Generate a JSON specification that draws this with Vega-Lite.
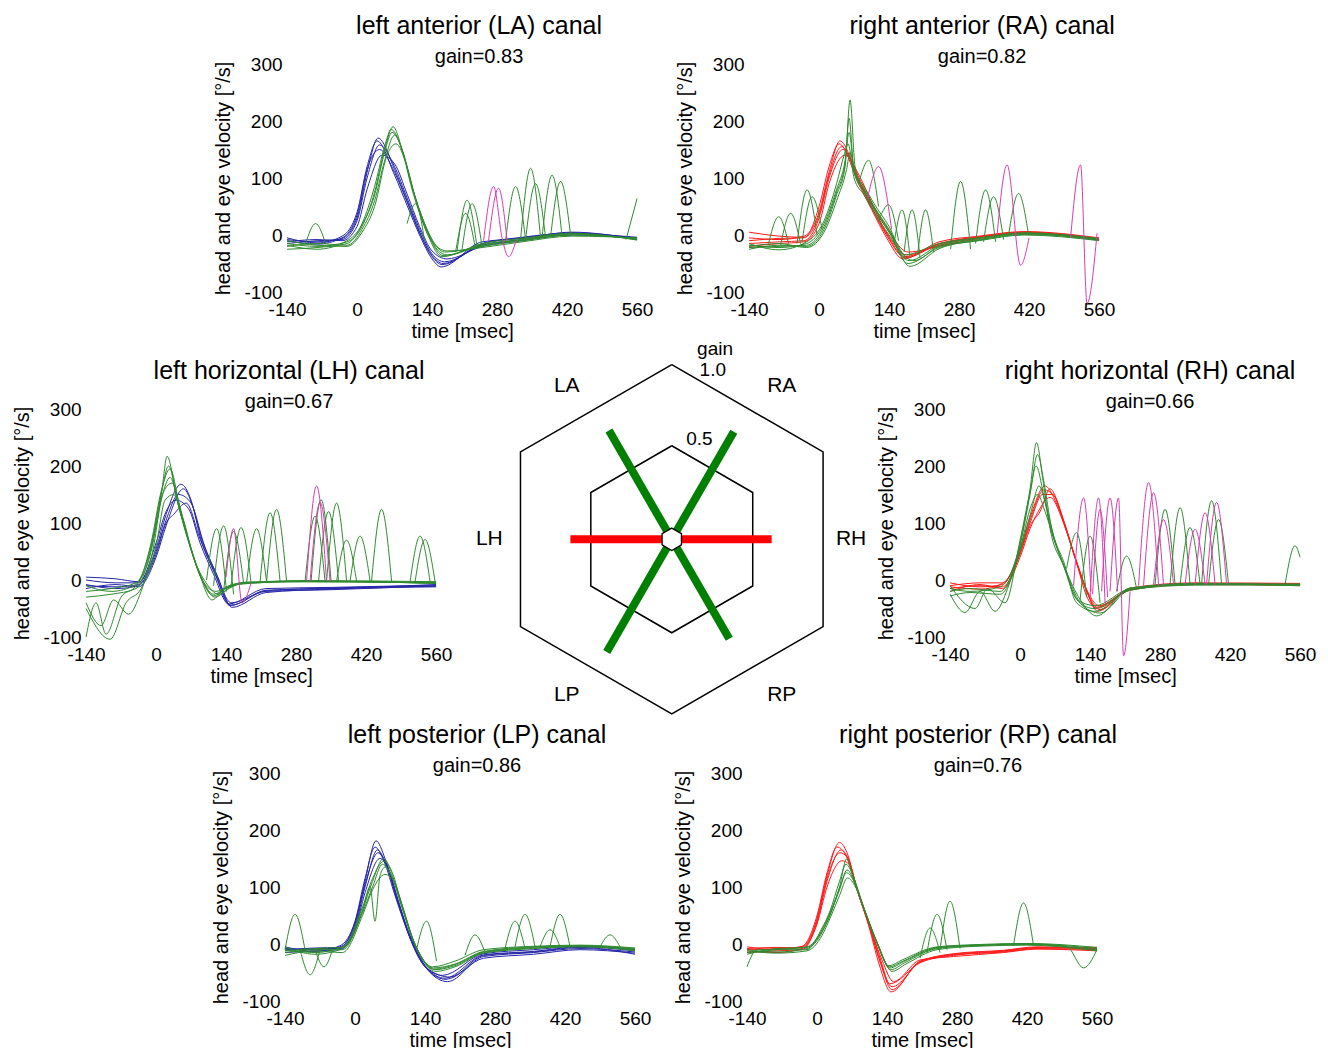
{
"$schema": "https://vega.github.io/schema/vega-lite/v6.json",
"background": "white",
"padding": {"left": 12, "top": 14, "right": 5, "bottom": 5},
"config": {
  "font": "Liberation Sans",
  "view": {"stroke": null},
  "axis": {"domain": false, "ticks": false, "grid": false, "labelFlush": false, "labelOverlap": false, "labelFont": "Liberation Sans", "labelFontSize": 19, "labelColor": "black", "titleFont": "Liberation Sans", "titleFontSize": 20, "titleFontWeight": "normal", "titleColor": "black"},
  "axisX": {"labelPadding": 8, "titlePadding": 2},
  "axisY": {"labelPadding": 5, "titlePadding": 11},
  "title": {"font": "Liberation Sans", "fontSize": 25, "fontWeight": "normal", "color": "black", "subtitleFont": "Liberation Sans", "subtitleFontSize": 20, "subtitleColor": "black", "anchor": "middle", "offset": -12, "subtitlePadding": 8},
  "line": {"strokeWidth": 1, "interpolate": "monotone"}
},
"datasets": {
"LAh": [
{"k":1,"t":-140,"v":-8},{"k":1,"t":-80,"v":-12},{"k":1,"t":-30,"v":-6},{"k":1,"t":0,"v":30},{"k":1,"t":20,"v":110},{"k":1,"t":42,"v":170},{"k":1,"t":75,"v":115},{"k":1,"t":100,"v":60},{"k":1,"t":125,"v":5},{"k":1,"t":150,"v":-38},{"k":1,"t":170,"v":-52},{"k":1,"t":250,"v":-15},{"k":1,"t":330,"v":-5},{"k":1,"t":430,"v":4},{"k":1,"t":560,"v":-6},
{"k":2,"t":-140,"v":-15},{"k":2,"t":-80,"v":-10},{"k":2,"t":-30,"v":-8},{"k":2,"t":0,"v":25},{"k":2,"t":20,"v":100},{"k":2,"t":45,"v":158},{"k":2,"t":75,"v":120},{"k":2,"t":100,"v":65},{"k":2,"t":125,"v":10},{"k":2,"t":150,"v":-33},{"k":2,"t":175,"v":-47},{"k":2,"t":250,"v":-18},{"k":2,"t":330,"v":-8},{"k":2,"t":430,"v":2},{"k":2,"t":560,"v":-4},
{"k":3,"t":-140,"v":-5},{"k":3,"t":-80,"v":-14},{"k":3,"t":-30,"v":-2},{"k":3,"t":0,"v":40},{"k":3,"t":20,"v":120},{"k":3,"t":40,"v":165},{"k":3,"t":75,"v":105},{"k":3,"t":100,"v":52},{"k":3,"t":125,"v":0},{"k":3,"t":150,"v":-42},{"k":3,"t":168,"v":-56},{"k":3,"t":250,"v":-12},{"k":3,"t":330,"v":-6},{"k":3,"t":430,"v":5},{"k":3,"t":560,"v":-8},
{"k":4,"t":-140,"v":-12},{"k":4,"t":-80,"v":-8},{"k":4,"t":-30,"v":-10},{"k":4,"t":0,"v":15},{"k":4,"t":20,"v":80},{"k":4,"t":50,"v":140},{"k":4,"t":75,"v":125},{"k":4,"t":100,"v":72},{"k":4,"t":125,"v":15},{"k":4,"t":150,"v":-28},{"k":4,"t":180,"v":-42},{"k":4,"t":250,"v":-20},{"k":4,"t":330,"v":-10},{"k":4,"t":430,"v":0},{"k":4,"t":560,"v":-5},
{"k":5,"t":-140,"v":-10},{"k":5,"t":-80,"v":-16},{"k":5,"t":-30,"v":-5},{"k":5,"t":0,"v":35},{"k":5,"t":20,"v":115},{"k":5,"t":45,"v":150},{"k":5,"t":75,"v":110},{"k":5,"t":100,"v":58},{"k":5,"t":125,"v":4},{"k":5,"t":150,"v":-36},{"k":5,"t":172,"v":-50},{"k":5,"t":250,"v":-16},{"k":5,"t":330,"v":-4},{"k":5,"t":430,"v":3},{"k":5,"t":560,"v":-7}
],
"LAe": [
{"k":1,"t":-140,"v":-15},{"k":1,"t":-80,"v":-20},{"k":1,"t":-20,"v":-12},{"k":1,"t":10,"v":15},{"k":1,"t":35,"v":75},{"k":1,"t":55,"v":150},{"k":1,"t":72,"v":190},{"k":1,"t":90,"v":150},{"k":1,"t":110,"v":85},{"k":1,"t":135,"v":20},{"k":1,"t":160,"v":-25},{"k":1,"t":180,"v":-35},{"k":1,"t":250,"v":-18},{"k":1,"t":330,"v":-8},{"k":1,"t":430,"v":2},{"k":1,"t":560,"v":-8},
{"k":2,"t":-140,"v":-20},{"k":2,"t":-80,"v":-15},{"k":2,"t":-20,"v":-18},{"k":2,"t":10,"v":10},{"k":2,"t":35,"v":60},{"k":2,"t":55,"v":130},{"k":2,"t":75,"v":175},{"k":2,"t":95,"v":135},{"k":2,"t":115,"v":70},{"k":2,"t":140,"v":10},{"k":2,"t":175,"v":-30},{"k":2,"t":250,"v":-20},{"k":2,"t":330,"v":-10},{"k":2,"t":430,"v":0},{"k":2,"t":560,"v":-6},
{"k":3,"t":-140,"v":-25},{"k":3,"t":-80,"v":-22},{"k":3,"t":-20,"v":-15},{"k":3,"t":10,"v":20},{"k":3,"t":35,"v":85},{"k":3,"t":55,"v":155},{"k":3,"t":68,"v":185},{"k":3,"t":88,"v":155},{"k":3,"t":110,"v":80},{"k":3,"t":135,"v":15},{"k":3,"t":170,"v":-38},{"k":3,"t":250,"v":-15},{"k":3,"t":330,"v":-6},{"k":3,"t":430,"v":3},{"k":3,"t":560,"v":-9},
{"k":4,"t":-140,"v":-10},{"k":4,"t":-80,"v":-18},{"k":4,"t":-20,"v":-20},{"k":4,"t":10,"v":5},{"k":4,"t":35,"v":50},{"k":4,"t":60,"v":140},{"k":4,"t":78,"v":160},{"k":4,"t":98,"v":125},{"k":4,"t":118,"v":60},{"k":4,"t":145,"v":-5},{"k":4,"t":180,"v":-28},{"k":4,"t":250,"v":-22},{"k":4,"t":330,"v":-12},{"k":4,"t":430,"v":-2},{"k":4,"t":560,"v":-5},
{"k":5,"t":-140,"v":-18},{"k":5,"t":-80,"v":-25},{"k":5,"t":-20,"v":-10},{"k":5,"t":10,"v":18},{"k":5,"t":35,"v":70},{"k":5,"t":55,"v":145},{"k":5,"t":70,"v":180},{"k":5,"t":92,"v":145},{"k":5,"t":112,"v":78},{"k":5,"t":138,"v":12},{"k":5,"t":172,"v":-36},{"k":5,"t":250,"v":-17},{"k":5,"t":330,"v":-9},{"k":5,"t":430,"v":1},{"k":5,"t":560,"v":-7},
{"k":11,"t":-103,"v":-15},{"k":11,"t":-83,"v":20},{"k":11,"t":-63,"v":-15},
{"k":12,"t":100,"v":20},{"k":12,"t":117,"v":55},{"k":12,"t":135,"v":-10},
{"k":13,"t":197,"v":-30},{"k":13,"t":217,"v":38},{"k":13,"t":237,"v":-25},
{"k":14,"t":200,"v":-28},{"k":14,"t":220,"v":61},{"k":14,"t":240,"v":-22},
{"k":15,"t":210,"v":-25},{"k":15,"t":230,"v":55},{"k":15,"t":250,"v":-20},
{"k":16,"t":297,"v":-10},{"k":16,"t":317,"v":85},{"k":16,"t":337,"v":-8},
{"k":17,"t":327,"v":-8},{"k":17,"t":347,"v":117},{"k":17,"t":367,"v":-5},
{"k":18,"t":337,"v":-8},{"k":18,"t":357,"v":90},{"k":18,"t":377,"v":-4},
{"k":19,"t":370,"v":-4},{"k":19,"t":390,"v":105},{"k":19,"t":410,"v":-2},
{"k":20,"t":387,"v":-3},{"k":20,"t":407,"v":94},{"k":20,"t":427,"v":0},
{"k":21,"t":538,"v":-8},{"k":21,"t":560,"v":64}
],
"LAm": [
{"k":1,"t":253,"v":-10},{"k":1,"t":273,"v":85},{"k":1,"t":290,"v":-5},{"k":1,"t":303,"v":-38},{"k":1,"t":318,"v":-10},
{"k":2,"t":263,"v":-10},{"k":2,"t":283,"v":82},{"k":2,"t":300,"v":-10}
],
"RAh": [
{"k":1,"t":-140,"v":-5},{"k":1,"t":-80,"v":-8},{"k":1,"t":-30,"v":-2},{"k":1,"t":0,"v":40},{"k":1,"t":20,"v":110},{"k":1,"t":42,"v":165},{"k":1,"t":80,"v":95},{"k":1,"t":105,"v":50},{"k":1,"t":135,"v":2},{"k":1,"t":172,"v":-38},{"k":1,"t":240,"v":-15},{"k":1,"t":320,"v":-3},{"k":1,"t":410,"v":5},{"k":1,"t":560,"v":-6},
{"k":2,"t":-140,"v":-15},{"k":2,"t":-80,"v":-12},{"k":2,"t":-30,"v":-10},{"k":2,"t":0,"v":30},{"k":2,"t":20,"v":100},{"k":2,"t":48,"v":150},{"k":2,"t":80,"v":100},{"k":2,"t":105,"v":55},{"k":2,"t":138,"v":0},{"k":2,"t":175,"v":-35},{"k":2,"t":240,"v":-18},{"k":2,"t":320,"v":-5},{"k":2,"t":410,"v":4},{"k":2,"t":560,"v":-8},
{"k":3,"t":-140,"v":-10},{"k":3,"t":-80,"v":-6},{"k":3,"t":-30,"v":-5},{"k":3,"t":0,"v":50},{"k":3,"t":20,"v":120},{"k":3,"t":40,"v":160},{"k":3,"t":80,"v":88},{"k":3,"t":105,"v":45},{"k":3,"t":135,"v":-5},{"k":3,"t":168,"v":-42},{"k":3,"t":240,"v":-12},{"k":3,"t":320,"v":-2},{"k":3,"t":410,"v":6},{"k":3,"t":560,"v":-5},
{"k":4,"t":-140,"v":-20},{"k":4,"t":-80,"v":-15},{"k":4,"t":-30,"v":-12},{"k":4,"t":0,"v":20},{"k":4,"t":20,"v":90},{"k":4,"t":52,"v":140},{"k":4,"t":80,"v":105},{"k":4,"t":105,"v":58},{"k":4,"t":140,"v":5},{"k":4,"t":178,"v":-30},{"k":4,"t":240,"v":-20},{"k":4,"t":320,"v":-6},{"k":4,"t":410,"v":3},{"k":4,"t":560,"v":-9},
{"k":5,"t":-140,"v":5},{"k":5,"t":-80,"v":-2},{"k":5,"t":-30,"v":-4},{"k":5,"t":0,"v":35},{"k":5,"t":20,"v":105},{"k":5,"t":45,"v":155},{"k":5,"t":80,"v":92},{"k":5,"t":105,"v":48},{"k":5,"t":136,"v":-2},{"k":5,"t":172,"v":-40},{"k":5,"t":240,"v":-16},{"k":5,"t":320,"v":-4},{"k":5,"t":410,"v":5},{"k":5,"t":560,"v":-7}
],
"RAe": [
{"k":1,"t":-140,"v":-18},{"k":1,"t":-80,"v":-22},{"k":1,"t":-25,"v":-15},{"k":1,"t":10,"v":20},{"k":1,"t":35,"v":80},{"k":1,"t":52,"v":130},{"k":1,"t":60,"v":180},{"k":1,"t":70,"v":115},{"k":1,"t":90,"v":80},{"k":1,"t":110,"v":50},{"k":1,"t":140,"v":10},{"k":1,"t":175,"v":-40},{"k":1,"t":190,"v":-45},{"k":1,"t":240,"v":-20},{"k":1,"t":320,"v":-8},{"k":1,"t":410,"v":3},{"k":1,"t":560,"v":-8},
{"k":2,"t":-140,"v":-25},{"k":2,"t":-80,"v":-18},{"k":2,"t":-25,"v":-20},{"k":2,"t":10,"v":10},{"k":2,"t":35,"v":70},{"k":2,"t":52,"v":120},{"k":2,"t":62,"v":237},{"k":2,"t":72,"v":120},{"k":2,"t":90,"v":78},{"k":2,"t":110,"v":45},{"k":2,"t":140,"v":5},{"k":2,"t":178,"v":-50},{"k":2,"t":240,"v":-22},{"k":2,"t":320,"v":-10},{"k":2,"t":410,"v":0},{"k":2,"t":560,"v":-10},
{"k":3,"t":-140,"v":-15},{"k":3,"t":-80,"v":-26},{"k":3,"t":-25,"v":-12},{"k":3,"t":10,"v":25},{"k":3,"t":35,"v":90},{"k":3,"t":50,"v":140},{"k":3,"t":58,"v":160},{"k":3,"t":70,"v":100},{"k":3,"t":90,"v":70},{"k":3,"t":110,"v":40},{"k":3,"t":140,"v":0},{"k":3,"t":180,"v":-45},{"k":3,"t":240,"v":-18},{"k":3,"t":320,"v":-6},{"k":3,"t":410,"v":4},{"k":3,"t":560,"v":-6},
{"k":4,"t":-140,"v":-22},{"k":4,"t":-80,"v":-20},{"k":4,"t":-25,"v":-18},{"k":4,"t":10,"v":15},{"k":4,"t":35,"v":75},{"k":4,"t":52,"v":125},{"k":4,"t":60,"v":205},{"k":4,"t":70,"v":110},{"k":4,"t":90,"v":85},{"k":4,"t":110,"v":55},{"k":4,"t":140,"v":15},{"k":4,"t":170,"v":-35},{"k":4,"t":240,"v":-15},{"k":4,"t":320,"v":-5},{"k":4,"t":410,"v":2},{"k":4,"t":560,"v":-9},
{"k":5,"t":-140,"v":-20},{"k":5,"t":-80,"v":-15},{"k":5,"t":-25,"v":-22},{"k":5,"t":10,"v":5},{"k":5,"t":35,"v":60},{"k":5,"t":55,"v":115},{"k":5,"t":62,"v":145},{"k":5,"t":72,"v":105},{"k":5,"t":90,"v":75},{"k":5,"t":110,"v":48},{"k":5,"t":140,"v":8},{"k":5,"t":182,"v":-55},{"k":5,"t":240,"v":-24},{"k":5,"t":320,"v":-9},{"k":5,"t":410,"v":1},{"k":5,"t":560,"v":-7},
{"k":11,"t":-101,"v":-15},{"k":11,"t":-81,"v":32},{"k":11,"t":-61,"v":-15},
{"k":12,"t":-77,"v":-18},{"k":12,"t":-57,"v":38},{"k":12,"t":-37,"v":-15},
{"k":13,"t":-44,"v":-15},{"k":13,"t":-24,"v":79},{"k":13,"t":-4,"v":0},
{"k":14,"t":-34,"v":-12},{"k":14,"t":-14,"v":67},{"k":14,"t":6,"v":10},
{"k":15,"t":79,"v":90},{"k":15,"t":99,"v":131},{"k":15,"t":119,"v":50},
{"k":16,"t":119,"v":25},{"k":16,"t":139,"v":53},{"k":16,"t":159,"v":-10},
{"k":17,"t":150,"v":-15},{"k":17,"t":166,"v":44},{"k":17,"t":182,"v":-40},
{"k":18,"t":170,"v":-30},{"k":18,"t":186,"v":44},{"k":18,"t":202,"v":-40},
{"k":19,"t":197,"v":-35},{"k":19,"t":213,"v":44},{"k":19,"t":229,"v":-30},
{"k":20,"t":263,"v":-25},{"k":20,"t":283,"v":94},{"k":20,"t":303,"v":-25},
{"k":21,"t":313,"v":-15},{"k":21,"t":333,"v":79},{"k":21,"t":353,"v":-12},
{"k":22,"t":329,"v":-12},{"k":22,"t":349,"v":67},{"k":22,"t":369,"v":-8},
{"k":23,"t":379,"v":0},{"k":23,"t":399,"v":73},{"k":23,"t":419,"v":0}
],
"RAm": [
{"k":1,"t":97,"v":65},{"k":1,"t":119,"v":120},{"k":1,"t":145,"v":10},
{"k":2,"t":356,"v":0},{"k":2,"t":376,"v":123},{"k":2,"t":403,"v":-53},{"k":2,"t":420,"v":-5},
{"k":3,"t":503,"v":-5},{"k":3,"t":523,"v":123},{"k":3,"t":536,"v":-120},{"k":3,"t":556,"v":3}
],
"LHh": [
{"k":1,"t":-140,"v":5},{"k":1,"t":-80,"v":2},{"k":1,"t":-35,"v":-3},{"k":1,"t":0,"v":55},{"k":1,"t":20,"v":115},{"k":1,"t":50,"v":168},{"k":1,"t":70,"v":140},{"k":1,"t":90,"v":70},{"k":1,"t":118,"v":12},{"k":1,"t":148,"v":-45},{"k":1,"t":220,"v":-18},{"k":1,"t":350,"v":-15},{"k":1,"t":560,"v":-8},
{"k":2,"t":-140,"v":-10},{"k":2,"t":-80,"v":-12},{"k":2,"t":-35,"v":-8},{"k":2,"t":0,"v":50},{"k":2,"t":20,"v":105},{"k":2,"t":45,"v":150},{"k":2,"t":70,"v":135},{"k":2,"t":92,"v":70},{"k":2,"t":120,"v":12},{"k":2,"t":150,"v":-40},{"k":2,"t":220,"v":-20},{"k":2,"t":350,"v":-17},{"k":2,"t":560,"v":-10},
{"k":3,"t":-140,"v":-15},{"k":3,"t":-80,"v":-8},{"k":3,"t":-35,"v":-12},{"k":3,"t":0,"v":40},{"k":3,"t":20,"v":95},{"k":3,"t":55,"v":160},{"k":3,"t":75,"v":125},{"k":3,"t":95,"v":65},{"k":3,"t":122,"v":8},{"k":3,"t":152,"v":-48},{"k":3,"t":220,"v":-22},{"k":3,"t":350,"v":-16},{"k":3,"t":560,"v":-12},
{"k":4,"t":-140,"v":0},{"k":4,"t":-80,"v":-5},{"k":4,"t":-35,"v":-5},{"k":4,"t":0,"v":65},{"k":4,"t":20,"v":120},{"k":4,"t":40,"v":140},{"k":4,"t":65,"v":125},{"k":4,"t":88,"v":65},{"k":4,"t":115,"v":10},{"k":4,"t":145,"v":-42},{"k":4,"t":220,"v":-15},{"k":4,"t":350,"v":-13},{"k":4,"t":560,"v":-9},
{"k":5,"t":-140,"v":-8},{"k":5,"t":-80,"v":-15},{"k":5,"t":-35,"v":-10},{"k":5,"t":0,"v":45},{"k":5,"t":20,"v":100},{"k":5,"t":35,"v":115},{"k":5,"t":60,"v":135},{"k":5,"t":88,"v":72},{"k":5,"t":118,"v":10},{"k":5,"t":150,"v":-44},{"k":5,"t":220,"v":-19},{"k":5,"t":350,"v":-14},{"k":5,"t":560,"v":-11}
],
"LHe": [
{"k":1,"t":-140,"v":-20},{"k":1,"t":-90,"v":-15},{"k":1,"t":-40,"v":-5},{"k":1,"t":-10,"v":60},{"k":1,"t":10,"v":150},{"k":1,"t":25,"v":200},{"k":1,"t":45,"v":130},{"k":1,"t":65,"v":70},{"k":1,"t":88,"v":10},{"k":1,"t":115,"v":-25},{"k":1,"t":140,"v":-15},{"k":1,"t":180,"v":-4},{"k":1,"t":300,"v":-3},{"k":1,"t":560,"v":-5},
{"k":2,"t":-140,"v":-30},{"k":2,"t":-90,"v":-25},{"k":2,"t":-40,"v":-15},{"k":2,"t":-10,"v":55},{"k":2,"t":10,"v":140},{"k":2,"t":28,"v":180},{"k":2,"t":48,"v":120},{"k":2,"t":68,"v":60},{"k":2,"t":90,"v":5},{"k":2,"t":118,"v":-30},{"k":2,"t":145,"v":-15},{"k":2,"t":180,"v":-5},{"k":2,"t":300,"v":-2},{"k":2,"t":560,"v":-6},
{"k":3,"t":-140,"v":-100},{"k":3,"t":-120,"v":-40},{"k":3,"t":-100,"v":-95},{"k":3,"t":-70,"v":-30},{"k":3,"t":-40,"v":-10},{"k":3,"t":-10,"v":50},{"k":3,"t":12,"v":160},{"k":3,"t":22,"v":217},{"k":3,"t":42,"v":140},{"k":3,"t":62,"v":75},{"k":3,"t":85,"v":15},{"k":3,"t":112,"v":-35},{"k":3,"t":140,"v":-12},{"k":3,"t":180,"v":-4},{"k":3,"t":300,"v":-2},{"k":3,"t":560,"v":-4},
{"k":4,"t":-140,"v":-40},{"k":4,"t":-110,"v":-80},{"k":4,"t":-85,"v":-35},{"k":4,"t":-55,"v":-60},{"k":4,"t":-30,"v":-20},{"k":4,"t":-8,"v":45},{"k":4,"t":15,"v":155},{"k":4,"t":32,"v":170},{"k":4,"t":52,"v":110},{"k":4,"t":70,"v":55},{"k":4,"t":92,"v":0},{"k":4,"t":120,"v":-20},{"k":4,"t":150,"v":-10},{"k":4,"t":180,"v":-6},{"k":4,"t":300,"v":-3},{"k":4,"t":560,"v":-5},
{"k":5,"t":-140,"v":-10},{"k":5,"t":-90,"v":-20},{"k":5,"t":-40,"v":-8},{"k":5,"t":-10,"v":65},{"k":5,"t":10,"v":155},{"k":5,"t":28,"v":195},{"k":5,"t":46,"v":135},{"k":5,"t":66,"v":65},{"k":5,"t":88,"v":8},{"k":5,"t":115,"v":-28},{"k":5,"t":140,"v":-14},{"k":5,"t":180,"v":-5},{"k":5,"t":300,"v":-1},{"k":5,"t":560,"v":-3},
{"k":6,"t":-140,"v":-50},{"k":6,"t":-92,"v":-104},{"k":6,"t":-60,"v":-40},{"k":6,"t":-30,"v":-15},{"k":6,"t":0,"v":60},{"k":6,"t":18,"v":140},{"k":6,"t":35,"v":150},{"k":6,"t":55,"v":105},{"k":6,"t":75,"v":40},{"k":6,"t":100,"v":-5},{"k":6,"t":125,"v":-25},{"k":6,"t":160,"v":-8},{"k":6,"t":300,"v":-2},{"k":6,"t":560,"v":-6},
{"k":11,"t":101,"v":0},{"k":11,"t":121,"v":90},{"k":11,"t":141,"v":-20},
{"k":12,"t":115,"v":-10},{"k":12,"t":135,"v":95},{"k":12,"t":155,"v":-25},
{"k":13,"t":135,"v":-20},{"k":13,"t":155,"v":85},{"k":13,"t":175,"v":-5},
{"k":14,"t":150,"v":-10},{"k":14,"t":170,"v":92},{"k":14,"t":190,"v":-5},
{"k":15,"t":181,"v":-5},{"k":15,"t":201,"v":90},{"k":15,"t":221,"v":-3},
{"k":16,"t":208,"v":-3},{"k":16,"t":228,"v":118},{"k":16,"t":248,"v":-2},
{"k":17,"t":221,"v":-3},{"k":17,"t":241,"v":124},{"k":17,"t":261,"v":-2},
{"k":18,"t":298,"v":-2},{"k":18,"t":318,"v":112},{"k":18,"t":338,"v":-2},
{"k":19,"t":310,"v":-2},{"k":19,"t":330,"v":141},{"k":19,"t":350,"v":-2},
{"k":20,"t":325,"v":-2},{"k":20,"t":345,"v":120},{"k":20,"t":365,"v":-2},
{"k":21,"t":341,"v":-2},{"k":21,"t":361,"v":135},{"k":21,"t":381,"v":-2},
{"k":22,"t":361,"v":-2},{"k":22,"t":381,"v":70},{"k":22,"t":401,"v":-2},
{"k":23,"t":388,"v":-2},{"k":23,"t":408,"v":77},{"k":23,"t":428,"v":-2},
{"k":24,"t":431,"v":-2},{"k":24,"t":451,"v":124},{"k":24,"t":471,"v":-2},
{"k":25,"t":508,"v":-3},{"k":25,"t":528,"v":77},{"k":25,"t":548,"v":-3},
{"k":26,"t":518,"v":-3},{"k":26,"t":538,"v":71},{"k":26,"t":558,"v":-3}
],
"LHm": [
{"k":1,"t":140,"v":5},{"k":1,"t":155,"v":90},{"k":1,"t":172,"v":-40},{"k":1,"t":190,"v":-5},
{"k":2,"t":301,"v":-2},{"k":2,"t":321,"v":165},{"k":2,"t":341,"v":-2},
{"k":3,"t":308,"v":-2},{"k":3,"t":328,"v":136},{"k":3,"t":348,"v":-2}
],
"RHh": [
{"k":1,"t":-140,"v":-10},{"k":1,"t":-80,"v":-5},{"k":1,"t":-35,"v":-5},{"k":1,"t":0,"v":50},{"k":1,"t":20,"v":100},{"k":1,"t":45,"v":150},{"k":1,"t":65,"v":150},{"k":1,"t":87,"v":100},{"k":1,"t":113,"v":30},{"k":1,"t":133,"v":-28},{"k":1,"t":153,"v":-50},{"k":1,"t":220,"v":-16},{"k":1,"t":350,"v":-6},{"k":1,"t":560,"v":-8},
{"k":2,"t":-140,"v":-15},{"k":2,"t":-80,"v":-10},{"k":2,"t":-35,"v":-12},{"k":2,"t":0,"v":45},{"k":2,"t":20,"v":95},{"k":2,"t":40,"v":120},{"k":2,"t":60,"v":160},{"k":2,"t":85,"v":110},{"k":2,"t":112,"v":35},{"k":2,"t":135,"v":-20},{"k":2,"t":158,"v":-45},{"k":2,"t":220,"v":-18},{"k":2,"t":350,"v":-7},{"k":2,"t":560,"v":-10},
{"k":3,"t":-140,"v":-5},{"k":3,"t":-80,"v":-12},{"k":3,"t":-35,"v":-8},{"k":3,"t":0,"v":55},{"k":3,"t":20,"v":110},{"k":3,"t":50,"v":165},{"k":3,"t":70,"v":140},{"k":3,"t":90,"v":95},{"k":3,"t":115,"v":25},{"k":3,"t":138,"v":-30},{"k":3,"t":155,"v":-55},{"k":3,"t":220,"v":-14},{"k":3,"t":350,"v":-5},{"k":3,"t":560,"v":-6},
{"k":4,"t":-140,"v":-20},{"k":4,"t":-80,"v":-8},{"k":4,"t":-35,"v":-15},{"k":4,"t":0,"v":40},{"k":4,"t":20,"v":90},{"k":4,"t":35,"v":118},{"k":4,"t":60,"v":145},{"k":4,"t":85,"v":105},{"k":4,"t":110,"v":40},{"k":4,"t":132,"v":-15},{"k":4,"t":150,"v":-48},{"k":4,"t":220,"v":-17},{"k":4,"t":350,"v":-8},{"k":4,"t":560,"v":-9},
{"k":5,"t":-140,"v":-12},{"k":5,"t":-80,"v":-16},{"k":5,"t":-35,"v":-6},{"k":5,"t":0,"v":48},{"k":5,"t":20,"v":105},{"k":5,"t":48,"v":158},{"k":5,"t":68,"v":148},{"k":5,"t":92,"v":90},{"k":5,"t":116,"v":22},{"k":5,"t":140,"v":-32},{"k":5,"t":160,"v":-52},{"k":5,"t":220,"v":-15},{"k":5,"t":350,"v":-6},{"k":5,"t":560,"v":-7}
],
"RHe": [
{"k":1,"t":-140,"v":-15},{"k":1,"t":-100,"v":-20},{"k":1,"t":-40,"v":-12},{"k":1,"t":0,"v":65},{"k":1,"t":20,"v":160},{"k":1,"t":33,"v":241},{"k":1,"t":45,"v":180},{"k":1,"t":60,"v":90},{"k":1,"t":87,"v":25},{"k":1,"t":115,"v":-35},{"k":1,"t":150,"v":-45},{"k":1,"t":220,"v":-15},{"k":1,"t":350,"v":-7},{"k":1,"t":560,"v":-8},
{"k":2,"t":-140,"v":-25},{"k":2,"t":-110,"v":-57},{"k":2,"t":-80,"v":-20},{"k":2,"t":-50,"v":-55},{"k":2,"t":-25,"v":-15},{"k":2,"t":0,"v":60},{"k":2,"t":20,"v":150},{"k":2,"t":35,"v":220},{"k":2,"t":48,"v":170},{"k":2,"t":62,"v":95},{"k":2,"t":88,"v":30},{"k":2,"t":113,"v":-40},{"k":2,"t":150,"v":-55},{"k":2,"t":220,"v":-16},{"k":2,"t":350,"v":-8},{"k":2,"t":560,"v":-10},
{"k":3,"t":-140,"v":-20},{"k":3,"t":-100,"v":-15},{"k":3,"t":-40,"v":-20},{"k":3,"t":0,"v":55},{"k":3,"t":22,"v":130},{"k":3,"t":35,"v":150},{"k":3,"t":50,"v":120},{"k":3,"t":65,"v":80},{"k":3,"t":90,"v":20},{"k":3,"t":120,"v":-34},{"k":3,"t":153,"v":-63},{"k":3,"t":220,"v":-14},{"k":3,"t":350,"v":-6},{"k":3,"t":560,"v":-9},
{"k":4,"t":-140,"v":-10},{"k":4,"t":-90,"v":-50},{"k":4,"t":-65,"v":-15},{"k":4,"t":-30,"v":-40},{"k":4,"t":0,"v":70},{"k":4,"t":20,"v":155},{"k":4,"t":32,"v":200},{"k":4,"t":47,"v":150},{"k":4,"t":60,"v":95},{"k":4,"t":86,"v":28},{"k":4,"t":117,"v":-38},{"k":4,"t":148,"v":-50},{"k":4,"t":220,"v":-18},{"k":4,"t":350,"v":-7},{"k":4,"t":560,"v":-7},
{"k":5,"t":-140,"v":-28},{"k":5,"t":-100,"v":-22},{"k":5,"t":-40,"v":-25},{"k":5,"t":0,"v":50},{"k":5,"t":22,"v":120},{"k":5,"t":38,"v":165},{"k":5,"t":52,"v":130},{"k":5,"t":68,"v":75},{"k":5,"t":92,"v":15},{"k":5,"t":125,"v":-45},{"k":5,"t":160,"v":-58},{"k":5,"t":220,"v":-17},{"k":5,"t":350,"v":-9},{"k":5,"t":560,"v":-8},
{"k":11,"t":93,"v":20},{"k":11,"t":113,"v":83},{"k":11,"t":133,"v":-30},
{"k":12,"t":120,"v":-35},{"k":12,"t":140,"v":77},{"k":12,"t":160,"v":-40},
{"k":13,"t":193,"v":-20},{"k":13,"t":213,"v":42},{"k":13,"t":233,"v":-15},
{"k":14,"t":270,"v":-8},{"k":14,"t":290,"v":124},{"k":14,"t":310,"v":-8},
{"k":15,"t":300,"v":-8},{"k":15,"t":320,"v":127},{"k":15,"t":340,"v":-8},
{"k":16,"t":320,"v":-8},{"k":16,"t":340,"v":92},{"k":16,"t":360,"v":-8},
{"k":17,"t":363,"v":-8},{"k":17,"t":383,"v":139},{"k":17,"t":403,"v":-8},
{"k":18,"t":377,"v":-8},{"k":18,"t":397,"v":106},{"k":18,"t":417,"v":-8},
{"k":19,"t":530,"v":-8},{"k":19,"t":550,"v":60},{"k":19,"t":560,"v":40}
],
"RHm": [
{"k":1,"t":107,"v":-10},{"k":1,"t":127,"v":144},{"k":1,"t":142,"v":-20},
{"k":2,"t":140,"v":-30},{"k":2,"t":157,"v":144},{"k":2,"t":170,"v":-40},
{"k":3,"t":145,"v":-25},{"k":3,"t":160,"v":124},{"k":3,"t":175,"v":-30},
{"k":4,"t":163,"v":-20},{"k":4,"t":180,"v":144},{"k":4,"t":195,"v":-20},
{"k":5,"t":180,"v":-20},{"k":5,"t":197,"v":144},{"k":5,"t":207,"v":-133},{"k":5,"t":220,"v":-20},
{"k":6,"t":237,"v":-10},{"k":6,"t":257,"v":171},{"k":6,"t":277,"v":-10},
{"k":7,"t":247,"v":-10},{"k":7,"t":267,"v":153},{"k":7,"t":287,"v":-10},
{"k":8,"t":267,"v":-8},{"k":8,"t":287,"v":106},{"k":8,"t":307,"v":-8},
{"k":9,"t":330,"v":-8},{"k":9,"t":350,"v":89},{"k":9,"t":370,"v":-8},
{"k":10,"t":350,"v":-8},{"k":10,"t":370,"v":118},{"k":10,"t":390,"v":-8},
{"k":11,"t":373,"v":-8},{"k":11,"t":393,"v":136},{"k":11,"t":413,"v":-8}
],
"LPh": [
{"k":1,"t":-140,"v":-8},{"k":1,"t":-80,"v":-10},{"k":1,"t":-30,"v":-5},{"k":1,"t":0,"v":35},{"k":1,"t":20,"v":110},{"k":1,"t":42,"v":181},{"k":1,"t":60,"v":150},{"k":1,"t":83,"v":81},{"k":1,"t":110,"v":11},{"k":1,"t":143,"v":-42},{"k":1,"t":180,"v":-60},{"k":1,"t":257,"v":-19},{"k":1,"t":357,"v":-13},{"k":1,"t":450,"v":-5},{"k":1,"t":560,"v":-12},
{"k":2,"t":-140,"v":-12},{"k":2,"t":-80,"v":-8},{"k":2,"t":-30,"v":-8},{"k":2,"t":0,"v":30},{"k":2,"t":20,"v":100},{"k":2,"t":45,"v":165},{"k":2,"t":62,"v":140},{"k":2,"t":85,"v":75},{"k":2,"t":112,"v":8},{"k":2,"t":145,"v":-45},{"k":2,"t":185,"v":-66},{"k":2,"t":257,"v":-22},{"k":2,"t":357,"v":-15},{"k":2,"t":450,"v":-8},{"k":2,"t":560,"v":-14},
{"k":3,"t":-140,"v":-5},{"k":3,"t":-80,"v":-13},{"k":3,"t":-30,"v":-3},{"k":3,"t":0,"v":40},{"k":3,"t":20,"v":115},{"k":3,"t":40,"v":170},{"k":3,"t":58,"v":145},{"k":3,"t":80,"v":85},{"k":3,"t":108,"v":15},{"k":3,"t":140,"v":-40},{"k":3,"t":175,"v":-55},{"k":3,"t":257,"v":-17},{"k":3,"t":357,"v":-10},{"k":3,"t":450,"v":-4},{"k":3,"t":560,"v":-10},
{"k":4,"t":-140,"v":-15},{"k":4,"t":-80,"v":-12},{"k":4,"t":-30,"v":-10},{"k":4,"t":0,"v":25},{"k":4,"t":20,"v":90},{"k":4,"t":50,"v":150},{"k":4,"t":65,"v":135},{"k":4,"t":88,"v":70},{"k":4,"t":115,"v":5},{"k":4,"t":148,"v":-45},{"k":4,"t":190,"v":-58},{"k":4,"t":257,"v":-20},{"k":4,"t":357,"v":-14},{"k":4,"t":450,"v":-6},{"k":4,"t":560,"v":-18},
{"k":5,"t":-140,"v":-10},{"k":5,"t":-80,"v":-7},{"k":5,"t":-30,"v":-6},{"k":5,"t":0,"v":38},{"k":5,"t":20,"v":105},{"k":5,"t":46,"v":160},{"k":5,"t":62,"v":142},{"k":5,"t":86,"v":78},{"k":5,"t":110,"v":10},{"k":5,"t":142,"v":-42},{"k":5,"t":182,"v":-62},{"k":5,"t":257,"v":-25},{"k":5,"t":357,"v":-18},{"k":5,"t":450,"v":-10},{"k":5,"t":560,"v":-16}
],
"LPe": [
{"k":1,"t":-140,"v":-10},{"k":1,"t":-80,"v":-15},{"k":1,"t":-25,"v":-5},{"k":1,"t":15,"v":60},{"k":1,"t":35,"v":110},{"k":1,"t":57,"v":150},{"k":1,"t":75,"v":120},{"k":1,"t":90,"v":75},{"k":1,"t":117,"v":5},{"k":1,"t":157,"v":-42},{"k":1,"t":200,"v":-35},{"k":1,"t":257,"v":-13},{"k":1,"t":357,"v":-5},{"k":1,"t":450,"v":-3},{"k":1,"t":560,"v":-8},
{"k":2,"t":-140,"v":-15},{"k":2,"t":-80,"v":-10},{"k":2,"t":-25,"v":-10},{"k":2,"t":15,"v":55},{"k":2,"t":35,"v":100},{"k":2,"t":55,"v":140},{"k":2,"t":75,"v":115},{"k":2,"t":92,"v":70},{"k":2,"t":120,"v":0},{"k":2,"t":160,"v":-45},{"k":2,"t":200,"v":-38},{"k":2,"t":257,"v":-15},{"k":2,"t":357,"v":-7},{"k":2,"t":450,"v":-5},{"k":2,"t":560,"v":-10},
{"k":3,"t":-140,"v":-5},{"k":3,"t":-80,"v":-18},{"k":3,"t":-25,"v":-8},{"k":3,"t":15,"v":65},{"k":3,"t":35,"v":115},{"k":3,"t":58,"v":145},{"k":3,"t":76,"v":122},{"k":3,"t":90,"v":80},{"k":3,"t":115,"v":10},{"k":3,"t":155,"v":-40},{"k":3,"t":200,"v":-30},{"k":3,"t":257,"v":-10},{"k":3,"t":357,"v":-4},{"k":3,"t":450,"v":-2},{"k":3,"t":560,"v":-7},
{"k":4,"t":-140,"v":-20},{"k":4,"t":-80,"v":-12},{"k":4,"t":-25,"v":-15},{"k":4,"t":15,"v":50},{"k":4,"t":35,"v":95},{"k":4,"t":60,"v":122},{"k":4,"t":78,"v":110},{"k":4,"t":95,"v":65},{"k":4,"t":122,"v":-5},{"k":4,"t":162,"v":-48},{"k":4,"t":200,"v":-40},{"k":4,"t":257,"v":-16},{"k":4,"t":357,"v":-8},{"k":4,"t":450,"v":-4},{"k":4,"t":560,"v":-12},
{"k":5,"t":-140,"v":-12},{"k":5,"t":-80,"v":-8},{"k":5,"t":-25,"v":-6},{"k":5,"t":15,"v":58},{"k":5,"t":30,"v":100},{"k":5,"t":40,"v":40},{"k":5,"t":50,"v":120},{"k":5,"t":60,"v":135},{"k":5,"t":80,"v":105},{"k":5,"t":93,"v":72},{"k":5,"t":118,"v":3},{"k":5,"t":158,"v":-44},{"k":5,"t":200,"v":-36},{"k":5,"t":257,"v":-14},{"k":5,"t":357,"v":-6},{"k":5,"t":450,"v":-3},{"k":5,"t":560,"v":-9},
{"k":11,"t":-140,"v":-10},{"k":11,"t":-120,"v":52},{"k":11,"t":-100,"v":-10},
{"k":12,"t":-110,"v":-10},{"k":12,"t":-90,"v":-54},{"k":12,"t":-70,"v":-10},
{"k":13,"t":-80,"v":-10},{"k":13,"t":-62,"v":-40},{"k":13,"t":-45,"v":-10},
{"k":14,"t":123,"v":-10},{"k":14,"t":143,"v":40},{"k":14,"t":163,"v":-30},
{"k":15,"t":220,"v":-20},{"k":15,"t":240,"v":16},{"k":15,"t":260,"v":-15},
{"k":16,"t":300,"v":-8},{"k":16,"t":320,"v":40},{"k":16,"t":340,"v":-8},
{"k":17,"t":320,"v":-5},{"k":17,"t":340,"v":52},{"k":17,"t":360,"v":-5},
{"k":18,"t":370,"v":-5},{"k":18,"t":390,"v":25},{"k":18,"t":410,"v":-5},
{"k":19,"t":390,"v":-5},{"k":19,"t":410,"v":52},{"k":19,"t":430,"v":-5},
{"k":20,"t":490,"v":-5},{"k":20,"t":510,"v":16},{"k":20,"t":530,"v":-5}
],
"RPh": [
{"k":1,"t":-140,"v":-10},{"k":1,"t":-80,"v":-8},{"k":1,"t":-30,"v":-5},{"k":1,"t":0,"v":45},{"k":1,"t":20,"v":120},{"k":1,"t":45,"v":178},{"k":1,"t":60,"v":160},{"k":1,"t":79,"v":99},{"k":1,"t":106,"v":28},{"k":1,"t":126,"v":-31},{"k":1,"t":150,"v":-80},{"k":1,"t":206,"v":-31},{"k":1,"t":273,"v":-19},{"k":1,"t":373,"v":-13},{"k":1,"t":440,"v":-7},{"k":1,"t":560,"v":-8},
{"k":2,"t":-140,"v":-15},{"k":2,"t":-80,"v":-12},{"k":2,"t":-30,"v":-10},{"k":2,"t":0,"v":38},{"k":2,"t":20,"v":110},{"k":2,"t":48,"v":165},{"k":2,"t":62,"v":150},{"k":2,"t":80,"v":95},{"k":2,"t":108,"v":25},{"k":2,"t":128,"v":-30},{"k":2,"t":145,"v":-70},{"k":2,"t":206,"v":-33},{"k":2,"t":273,"v":-20},{"k":2,"t":373,"v":-14},{"k":2,"t":440,"v":-8},{"k":2,"t":560,"v":-10},
{"k":3,"t":-140,"v":-5},{"k":3,"t":-80,"v":-10},{"k":3,"t":-30,"v":-4},{"k":3,"t":0,"v":50},{"k":3,"t":20,"v":125},{"k":3,"t":40,"v":170},{"k":3,"t":58,"v":155},{"k":3,"t":78,"v":100},{"k":3,"t":104,"v":30},{"k":3,"t":124,"v":-35},{"k":3,"t":148,"v":-84},{"k":3,"t":206,"v":-30},{"k":3,"t":273,"v":-18},{"k":3,"t":373,"v":-12},{"k":3,"t":440,"v":-6},{"k":3,"t":560,"v":-6},
{"k":4,"t":-140,"v":-12},{"k":4,"t":-80,"v":-15},{"k":4,"t":-30,"v":-8},{"k":4,"t":0,"v":35},{"k":4,"t":20,"v":100},{"k":4,"t":50,"v":146},{"k":4,"t":64,"v":140},{"k":4,"t":82,"v":92},{"k":4,"t":110,"v":20},{"k":4,"t":130,"v":-28},{"k":4,"t":153,"v":-66},{"k":4,"t":206,"v":-28},{"k":4,"t":273,"v":-22},{"k":4,"t":373,"v":-15},{"k":4,"t":440,"v":-9},{"k":4,"t":560,"v":-12},
{"k":5,"t":-140,"v":-8},{"k":5,"t":-80,"v":-6},{"k":5,"t":-30,"v":-7},{"k":5,"t":0,"v":42},{"k":5,"t":20,"v":115},{"k":5,"t":46,"v":160},{"k":5,"t":61,"v":152},{"k":5,"t":80,"v":97},{"k":5,"t":107,"v":24},{"k":5,"t":127,"v":-33},{"k":5,"t":150,"v":-75},{"k":5,"t":206,"v":-32},{"k":5,"t":273,"v":-17},{"k":5,"t":373,"v":-11},{"k":5,"t":440,"v":-5},{"k":5,"t":560,"v":-9}
],
"RPe": [
{"k":1,"t":-140,"v":-15},{"k":1,"t":-80,"v":-10},{"k":1,"t":-20,"v":-5},{"k":1,"t":10,"v":25},{"k":1,"t":26,"v":55},{"k":1,"t":45,"v":100},{"k":1,"t":59,"v":149},{"k":1,"t":75,"v":110},{"k":1,"t":93,"v":64},{"k":1,"t":119,"v":5},{"k":1,"t":146,"v":-42},{"k":1,"t":173,"v":-31},{"k":1,"t":240,"v":-7},{"k":1,"t":320,"v":-2},{"k":1,"t":420,"v":0},{"k":1,"t":560,"v":-8},
{"k":2,"t":-140,"v":-10},{"k":2,"t":-80,"v":-14},{"k":2,"t":-20,"v":-8},{"k":2,"t":10,"v":20},{"k":2,"t":26,"v":52},{"k":2,"t":45,"v":95},{"k":2,"t":60,"v":130},{"k":2,"t":76,"v":105},{"k":2,"t":95,"v":60},{"k":2,"t":121,"v":0},{"k":2,"t":148,"v":-45},{"k":2,"t":175,"v":-33},{"k":2,"t":240,"v":-8},{"k":2,"t":320,"v":-3},{"k":2,"t":420,"v":-1},{"k":2,"t":560,"v":-10},
{"k":3,"t":-140,"v":-40},{"k":3,"t":-120,"v":-10},{"k":3,"t":-20,"v":-10},{"k":3,"t":10,"v":28},{"k":3,"t":26,"v":58},{"k":3,"t":45,"v":110},{"k":3,"t":58,"v":140},{"k":3,"t":74,"v":115},{"k":3,"t":92,"v":68},{"k":3,"t":117,"v":8},{"k":3,"t":144,"v":-38},{"k":3,"t":170,"v":-28},{"k":3,"t":240,"v":-5},{"k":3,"t":320,"v":-1},{"k":3,"t":420,"v":1},{"k":3,"t":560,"v":-6},
{"k":4,"t":-140,"v":-12},{"k":4,"t":-80,"v":-16},{"k":4,"t":-20,"v":-12},{"k":4,"t":10,"v":15},{"k":4,"t":26,"v":45},{"k":4,"t":45,"v":85},{"k":4,"t":61,"v":116},{"k":4,"t":77,"v":100},{"k":4,"t":96,"v":58},{"k":4,"t":123,"v":-3},{"k":4,"t":150,"v":-48},{"k":4,"t":178,"v":-35},{"k":4,"t":240,"v":-10},{"k":4,"t":320,"v":-4},{"k":4,"t":420,"v":-2},{"k":4,"t":560,"v":-12},
{"k":5,"t":-140,"v":-18},{"k":5,"t":-80,"v":-8},{"k":5,"t":-20,"v":-6},{"k":5,"t":10,"v":22},{"k":5,"t":26,"v":50},{"k":5,"t":45,"v":98},{"k":5,"t":59,"v":125},{"k":5,"t":75,"v":108},{"k":5,"t":94,"v":62},{"k":5,"t":120,"v":2},{"k":5,"t":145,"v":-40},{"k":5,"t":172,"v":-30},{"k":5,"t":240,"v":-6},{"k":5,"t":320,"v":-2},{"k":5,"t":420,"v":0},{"k":5,"t":500,"v":-5},{"k":5,"t":533,"v":-42},{"k":5,"t":560,"v":-10},
{"k":11,"t":206,"v":-25},{"k":11,"t":226,"v":28},{"k":11,"t":246,"v":-15},
{"k":12,"t":220,"v":-15},{"k":12,"t":240,"v":52},{"k":12,"t":260,"v":-10},
{"k":13,"t":246,"v":-10},{"k":13,"t":266,"v":75},{"k":13,"t":286,"v":-8},
{"k":14,"t":393,"v":-3},{"k":14,"t":413,"v":72},{"k":14,"t":433,"v":-3}
],
"hex": [
{"g":"outer","o":1,"x":0,"y":1.1547},{"g":"outer","o":2,"x":1,"y":0.5774},{"g":"outer","o":3,"x":1,"y":-0.5774},{"g":"outer","o":4,"x":0,"y":-1.1547},{"g":"outer","o":5,"x":-1,"y":-0.5774},{"g":"outer","o":6,"x":-1,"y":0.5774},{"g":"outer","o":7,"x":0,"y":1.1547},
{"g":"inner","o":1,"x":0,"y":0.618},{"g":"inner","o":2,"x":0.535,"y":0.309},{"g":"inner","o":3,"x":0.535,"y":-0.309},{"g":"inner","o":4,"x":0,"y":-0.618},{"g":"inner","o":5,"x":-0.535,"y":-0.309},{"g":"inner","o":6,"x":-0.535,"y":0.309},{"g":"inner","o":7,"x":0,"y":0.618}
],
"spokes": [
{"n":"LA","c":"vertical","x":-0.415,"y":0.7188},
{"n":"RA","c":"vertical","x":0.41,"y":0.7101},
{"n":"LH","c":"horizontal","x":-0.67,"y":0},
{"n":"RH","c":"horizontal","x":0.66,"y":0},
{"n":"LP","c":"vertical","x":-0.43,"y":-0.7448},
{"n":"RP","c":"vertical","x":0.38,"y":-0.6582}
],
"center": [{"x":0,"y":0}],
"canals": [
{"s":"LA","x":-0.694,"y":1.013},{"s":"RA","x":0.727,"y":1.013},{"s":"LH","x":-1.206,"y":0},{"s":"RH","x":1.185,"y":0},{"s":"LP","x":-0.694,"y":-1.029},{"s":"RP","x":0.727,"y":-1.029}
],
"scaleText": [
{"s":"gain","x":0.286,"y":1.255},{"s":"1.0","x":0.271,"y":1.119},{"s":"0.5","x":0.183,"y":0.661}
]
},
"spacing": -1,
"center": true,
"vconcat": [
{
"hconcat": [
{
"title": {"text": "left anterior (LA) canal", "subtitle": "gain=0.83", "dx": 17},
"width": 350, "height": 228,
"encoding": {
"x": {"field": "t", "type": "quantitative", "scale": {"domain": [-140, 560], "nice": false, "zero": false}, "axis": {"values": [-140, 0, 140, 280, 420, 560], "title": "time [msec]", "labelExpr": "replace(datum.label, '−', '-')"}},
"y": {"field": "v", "type": "quantitative", "scale": {"domain": [-100, 300], "nice": false, "zero": false}, "axis": {"values": [-100, 0, 100, 200, 300], "title": "head and eye velocity [°/s]", "labelExpr": "replace(datum.label, '−', '-')"}},
"detail": {"field": "k", "type": "nominal"}
},
"layer": [
{"data": {"name": "LAh"}, "mark": {"type": "line", "color": "#2626a8"}},
{"data": {"name": "LAe"}, "mark": {"type": "line", "color": "#2f8a2f"}},
{"data": {"name": "LAm"}, "mark": {"type": "line", "color": "#d63cb0"}}
]
},
{
"title": {"text": "right anterior (RA) canal", "subtitle": "gain=0.82", "dx": 58},
"width": 350, "height": 228,
"encoding": {
"x": {"field": "t", "type": "quantitative", "scale": {"domain": [-140, 560], "nice": false, "zero": false}, "axis": {"values": [-140, 0, 140, 280, 420, 560], "title": "time [msec]", "labelExpr": "replace(datum.label, '−', '-')"}},
"y": {"field": "v", "type": "quantitative", "scale": {"domain": [-100, 300], "nice": false, "zero": false}, "axis": {"values": [-100, 0, 100, 200, 300], "title": "head and eye velocity [°/s]", "labelExpr": "replace(datum.label, '−', '-')"}},
"detail": {"field": "k", "type": "nominal"}
},
"layer": [
{"data": {"name": "RAh"}, "mark": {"type": "line", "color": "#ff1a1a"}},
{"data": {"name": "RAe"}, "mark": {"type": "line", "color": "#2f8a2f"}},
{"data": {"name": "RAm"}, "mark": {"type": "line", "color": "#d63cb0"}}
]
}
],
"spacing": 112,
"bounds": "flush"
},
{
"hconcat": [
{
"title": {"text": "left horizontal (LH) canal", "subtitle": "gain=0.67", "dx": 28},
"width": 350, "height": 228,
"encoding": {
"x": {"field": "t", "type": "quantitative", "scale": {"domain": [-140, 560], "nice": false, "zero": false}, "axis": {"values": [-140, 0, 140, 280, 420, 560], "title": "time [msec]", "labelExpr": "replace(datum.label, '−', '-')"}},
"y": {"field": "v", "type": "quantitative", "scale": {"domain": [-100, 300], "nice": false, "zero": false}, "axis": {"values": [-100, 0, 100, 200, 300], "title": "head and eye velocity [°/s]", "labelExpr": "replace(datum.label, '−', '-')"}},
"detail": {"field": "k", "type": "nominal"}
},
"layer": [
{"data": {"name": "LHh"}, "mark": {"type": "line", "color": "#2626a8"}},
{"data": {"name": "LHe"}, "mark": {"type": "line", "color": "#2f8a2f"}},
{"data": {"name": "LHm"}, "mark": {"type": "line", "color": "#d63cb0"}}
]
},
{
"width": 390, "height": 315,
"encoding": {
"x": {"field": "x", "type": "quantitative", "scale": {"domain": [-1.148, 1.4296], "nice": false, "zero": false}, "axis": null},
"y": {"field": "y", "type": "quantitative", "scale": {"domain": [-1.221, 0.861], "nice": false, "zero": false}, "axis": null}
},
"layer": [
{"data": {"name": "hex"}, "mark": {"type": "line", "color": "black", "strokeWidth": 1.5, "interpolate": "linear"}, "encoding": {"detail": {"field": "g", "type": "nominal"}, "order": {"field": "o", "type": "quantitative"}}},
{"data": {"name": "spokes"}, "mark": {"type": "rule", "strokeWidth": 8}, "encoding": {"x2": {"datum": 0}, "y2": {"datum": 0}, "color": {"field": "c", "type": "nominal", "scale": {"domain": ["vertical", "horizontal"], "range": ["#007f00", "#ff0000"]}, "legend": null}}},
{"data": {"name": "center"}, "mark": {"type": "point", "shape": "M0,-1L0.866,-0.5L0.866,0.5L0,1L-0.866,0.5L-0.866,-0.5Z", "size": 500, "filled": true, "fill": "white", "stroke": "black", "strokeWidth": 1.3, "opacity": 1}},
{"data": {"name": "canals"}, "mark": {"type": "text", "fontSize": 21, "font": "Liberation Sans", "color": "black", "align": "center", "baseline": "middle"}, "encoding": {"text": {"field": "s"}}},
{"data": {"name": "scaleText"}, "mark": {"type": "text", "fontSize": 19, "font": "Liberation Sans", "color": "black", "align": "center", "baseline": "middle"}, "encoding": {"text": {"field": "s"}}}
]
},
{
"title": {"text": "right horizontal (RH) canal", "subtitle": "gain=0.66", "dx": 25},
"width": 350, "height": 228,
"encoding": {
"x": {"field": "t", "type": "quantitative", "scale": {"domain": [-140, 560], "nice": false, "zero": false}, "axis": {"values": [-140, 0, 140, 280, 420, 560], "title": "time [msec]", "labelExpr": "replace(datum.label, '−', '-')"}},
"y": {"field": "v", "type": "quantitative", "scale": {"domain": [-100, 300], "nice": false, "zero": false}, "axis": {"values": [-100, 0, 100, 200, 300], "title": "head and eye velocity [°/s]", "labelExpr": "replace(datum.label, '−', '-')"}},
"detail": {"field": "k", "type": "nominal"}
},
"layer": [
{"data": {"name": "RHh"}, "mark": {"type": "line", "color": "#ff1a1a"}},
{"data": {"name": "RHe"}, "mark": {"type": "line", "color": "#2f8a2f"}},
{"data": {"name": "RHm"}, "mark": {"type": "line", "color": "#d63cb0"}}
]
}
],
"spacing": 62,
"bounds": "flush"
},
{
"hconcat": [
{
"title": {"text": "left posterior (LP) canal", "subtitle": "gain=0.86", "dx": 17},
"width": 350, "height": 228,
"encoding": {
"x": {"field": "t", "type": "quantitative", "scale": {"domain": [-140, 560], "nice": false, "zero": false}, "axis": {"values": [-140, 0, 140, 280, 420, 560], "title": "time [msec]", "labelExpr": "replace(datum.label, '−', '-')"}},
"y": {"field": "v", "type": "quantitative", "scale": {"domain": [-100, 300], "nice": false, "zero": false}, "axis": {"values": [-100, 0, 100, 200, 300], "title": "head and eye velocity [°/s]", "labelExpr": "replace(datum.label, '−', '-')"}},
"detail": {"field": "k", "type": "nominal"}
},
"layer": [
{"data": {"name": "LPh"}, "mark": {"type": "line", "color": "#2626a8"}},
{"data": {"name": "LPe"}, "mark": {"type": "line", "color": "#2f8a2f"}}
]
},
{
"title": {"text": "right posterior (RP) canal", "subtitle": "gain=0.76", "dx": 56},
"width": 350, "height": 228,
"encoding": {
"x": {"field": "t", "type": "quantitative", "scale": {"domain": [-140, 560], "nice": false, "zero": false}, "axis": {"values": [-140, 0, 140, 280, 420, 560], "title": "time [msec]", "labelExpr": "replace(datum.label, '−', '-')"}},
"y": {"field": "v", "type": "quantitative", "scale": {"domain": [-100, 300], "nice": false, "zero": false}, "axis": {"values": [-100, 0, 100, 200, 300], "title": "head and eye velocity [°/s]", "labelExpr": "replace(datum.label, '−', '-')"}},
"detail": {"field": "k", "type": "nominal"}
},
"layer": [
{"data": {"name": "RPh"}, "mark": {"type": "line", "color": "#ff1a1a"}},
{"data": {"name": "RPe"}, "mark": {"type": "line", "color": "#2f8a2f"}}
]
}
],
"spacing": 112,
"bounds": "flush"
}
]
}
